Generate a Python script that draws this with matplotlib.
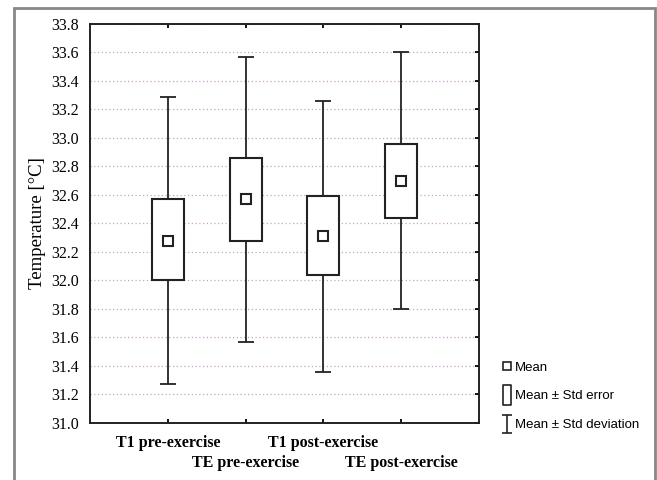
import matplotlib
matplotlib.use('Agg')
import matplotlib.pyplot as plt
import numpy as np
from matplotlib.lines import Line2D
from matplotlib.patches import Rectangle
from matplotlib.path import Path

# data
groups = ['T1 pre-exercise', 'TE pre-exercise', 'T1 post-exercise', 'TE post-exercise']
mean = [32.28, 32.57, 32.31, 32.70]
se_low = [32.00, 32.28, 32.04, 32.44]
se_high = [32.57, 32.86, 32.59, 32.96]
sd_low = [31.27, 31.57, 31.36, 31.80]
sd_high = [33.29, 33.57, 33.26, 33.60]
yticks = np.arange(31.0, 33.81, 0.2)

serif = 'Liberation Serif'
sans = 'Liberation Sans'

fig = plt.figure(figsize=(6.57, 4.8), dpi=100)
ax = fig.add_axes([0.137, 0.119, 0.592, 0.831])

pos = np.arange(1, len(groups) + 1)
mean = np.array(mean)
lo_err = mean - np.array(sd_low)
hi_err = np.array(sd_high) - mean

# whiskers (std deviation)
ax.errorbar(pos, mean, yerr=[lo_err, hi_err], fmt='none', ecolor='#222222',
            elinewidth=1.3, capsize=6, capthick=1.3, zorder=2)
# boxes (std error)
ax.bar(pos, np.array(se_high) - np.array(se_low), bottom=se_low, width=0.41,
       color='white', edgecolor='#222222', linewidth=1.5, zorder=3)
# mean markers
ax.plot(pos, mean, 's', ms=6.5, mfc='white', mec='#222222', mew=1.5, zorder=4)

ax.set_xlim(0, 5)
ax.set_ylim(31.0, 33.8)
ax.set_yticks(yticks)
ax.set_yticklabels(['%.1f' % v for v in yticks], fontfamily=serif, fontsize=11.5)
ax.set_xticks(pos)
ax.set_xticklabels([])
ax.tick_params(axis='both', direction='in', top=True, right=True, length=3, width=1.3)
ax.tick_params(axis='y', left=False, pad=8)
for s in ax.spines.values():
    s.set_linewidth(1.4)
    s.set_color('#222222')

ax.yaxis.grid(True, linestyle=(0, (1, 2)), color='#c9a2c9', linewidth=0.9)
ax.set_axisbelow(True)

# staggered category labels
for i, g in enumerate(groups):
    yoff = -0.05 if i % 2 == 0 else -0.1
    ax.text(pos[i], yoff, g, transform=ax.get_xaxis_transform(), ha='center', va='center',
            fontfamily=serif, fontweight='bold', fontsize=11.5)

ax.set_ylabel('Temperature [°C]', fontfamily=serif, fontsize=13.5, labelpad=4)

# legend
tall = Path([(-0.35, -1), (0.35, -1), (0.35, 1), (-0.35, 1), (-0.35, -1)],
            [Path.MOVETO, Path.LINETO, Path.LINETO, Path.LINETO, Path.CLOSEPOLY])
ibar = Path([(-0.6, 1), (0.6, 1), (0, 1), (0, -1), (-0.6, -1), (0.6, -1)],
            [Path.MOVETO, Path.LINETO, Path.MOVETO, Path.LINETO, Path.MOVETO, Path.LINETO])
handles = [
    Line2D([], [], ls='none', marker='s', ms=6, mfc='white', mec='#222222', mew=1.2),
    Line2D([], [], ls='none', marker=tall, ms=15, mfc='white', mec='#222222', mew=1.2),
    Line2D([], [], ls='none', marker=ibar, ms=13, mfc='none', mec='#222222', mew=1.2),
]
fig.legend(handles, ['Mean', 'Mean ± Std error', 'Mean ± Std deviation'],
           loc='upper left', bbox_to_anchor=(0.757, 0.258), frameon=False,
           prop={'family': sans, 'size': 9.5}, handlelength=0.6, handletextpad=0.3,
           labelspacing=1.25, borderaxespad=0)

# outer frame
fig.add_artist(Rectangle((14 / 657, -0.01), 641 / 657, 0.993, transform=fig.transFigure,
                         fill=False, edgecolor='#888888', linewidth=2))

fig.savefig('out.png', dpi=100)
